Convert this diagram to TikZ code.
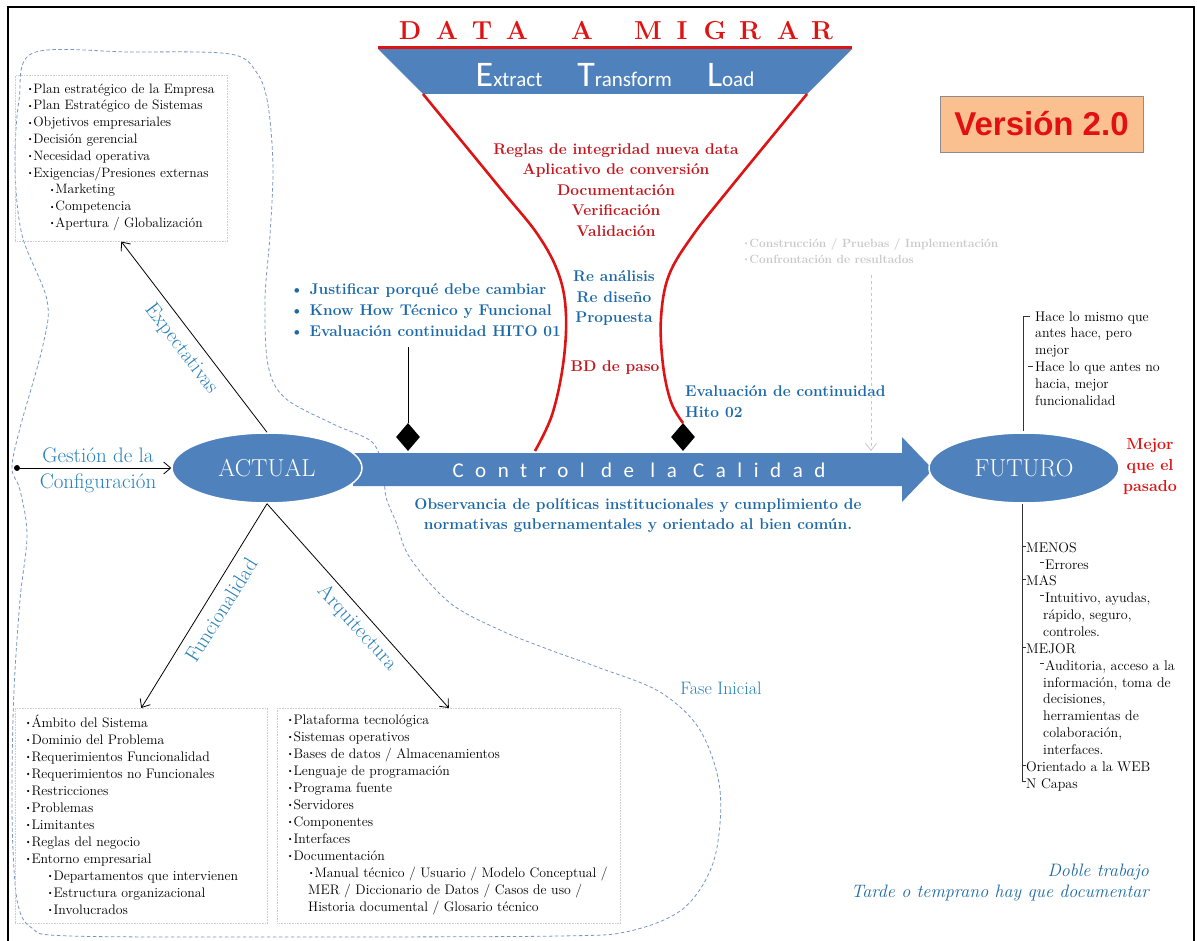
\documentclass[tikz,border=0pt]{standalone}
\usepackage{fontspec}
\newfontfamily\calibfont{Carlito}
\newfontfamily\calibspaced[LetterSpace=55]{Carlito}
\newfontfamily\arialfont{Liberation Sans}
\usetikzlibrary{shapes.geometric,arrows.meta}

\definecolor{bandblue}{RGB}{79,129,189}
\definecolor{textblue}{RGB}{28,104,168}
\definecolor{lblblue}{RGB}{40,128,186}
\definecolor{darkred}{RGB}{196,22,28}
\definecolor{brightred}{RGB}{222,20,20}
\definecolor{blobblue}{RGB}{120,150,195}
\definecolor{boxgray}{RGB}{205,205,205}
\definecolor{softgray}{RGB}{200,200,200}
\definecolor{peach}{RGB}{250,192,143}
\definecolor{versred}{RGB}{226,16,16}

\newcommand\bul{\raisebox{0.12em}{\scalebox{0.6}{\textbullet}}}

\tikzset{
  listbox/.style={draw=boxgray, densely dotted, line width=0.6pt, inner sep=0pt},
  listtext/.style={anchor=north west, align=left, inner sep=0pt, font=\fontsize{13.6}{16.8}\selectfont},
  boxtext/.style={anchor=north west, align=left, inner sep=0pt, font=\fontsize{13.8}{17}\selectfont},
  futtext/.style={anchor=north west, align=left, inner sep=0pt, font=\fontsize{14}{16.85}\selectfont},
  boldblue/.style={text=textblue, inner sep=0pt, font=\bfseries\fontsize{15.5}{20.7}\selectfont},
  boldred/.style={text=darkred, inner sep=0pt, font=\bfseries\fontsize{15.5}{20.5}\selectfont},
  lbl/.style={text=lblblue, inner sep=0pt, font=\fontsize{21}{26}\selectfont},
  migr/.style={text=brightred, inner sep=0pt, font=\bfseries\fontsize{26}{26}\selectfont},
  state/.style={ellipse, fill=bandblue, draw=white, line width=1.5pt, minimum width=190pt,
    minimum height=70pt, inner sep=0pt, text=white, font=\fontsize{24.5}{24.5}\selectfont},
  thinarrow/.style={draw=black, line width=0.8pt, -{Straight Barb[length=7pt,width=12pt]}},
  grayarrow/.style={draw=softgray, dashed, line width=0.8pt, -{Straight Barb[length=7pt,width=11pt]}},
  milestone/.style={diamond, fill=black, minimum width=24pt, minimum height=28pt, inner sep=0pt},
  blobline/.style={draw=blobblue, dashed, dash pattern=on 3.5pt off 2.5pt, line width=0.8pt},
  redcurve/.style={draw=brightred, line width=2.6pt},
  tick/.style={draw=black!80, line width=0.7pt}
}

\begin{document}
\begin{tikzpicture}[x=1pt,y=-1pt]
\useasboundingbox (0,0) rectangle (1197,941);
\fill[white] (0,0) rectangle (1197,941);

% outer frame
\draw[line width=2pt] (8,7) rectangle (1194,950);

% dashed outline of the initial phase
\draw[blobline] plot[smooth cycle, tension=0.55] coordinates {
  (33,53) (130,52) (230,54) (257,73) (268,105) (273,167) (270,235) (265,300)
  (268,365) (285,398) (333,424) (372,442) (383,470) (386,497) (396,522) (410,558)
  (450,603) (500,630) (550,650) (600,668) (660,692) (700,730) (720,790) (714,860)
  (684,908) (630,931) (560,936) (300,937) (70,936) (32,928) (18,905) (13,850)
  (12,780) (14,690) (20,600) (27,535) (20,490) (12,468) (20,428) (43,345)
  (47,300) (22,235) (15,167) (19,100)};
\node[text=lblblue, inner sep=0pt, font=\fontsize{18}{18}\selectfont] (fase) at (721,688) {Fase Inicial};

% ETL funnel
\fill[bandblue] (378,49) -- (852,49) -- (807,94) -- (423,94) -- cycle;
\draw[brightred, line width=3pt] (378,47.5) -- (852,47.5);
\foreach \ch/\xx [count=\i] in {D/410,A/447,T/482,A/517,A/582,M/648,I/682,G/715,R/750,A/788,R/822}
  \node[migr, anchor=base] (m\i) at (\xx,40) {\ch};
\node[anchor=base, text=white, inner sep=0pt, font=\calibfont] (etl) at (615,87)
  {{\fontsize{36}{36}\selectfont E}{\fontsize{21}{21}\selectfont xtract}\hspace{35pt}%
   {\fontsize{36}{36}\selectfont T}{\fontsize{21}{21}\selectfont ransform}\hspace{35pt}%
   {\fontsize{36}{36}\selectfont L}{\fontsize{21}{21}\selectfont oad}};

% milestones
\node[milestone] (d1) at (408,437) {};
\node[milestone] (d2) at (683,437) {};

\draw[redcurve] plot[smooth, tension=0.6] coordinates {
  (423,94) (500,188) (538,235) (559,275) (566,315) (563,365) (552,415) (535,451)};
\draw[redcurve] plot[smooth, tension=0.6] coordinates {
  (807,94) (730,188) (693,235) (669,275) (661,318) (663,365) (671,402) (683,423)};

\node[boldred, anchor=north, align=center] (etlsteps) at (616,143.5)
  {Reglas de integridad nueva data\\Aplicativo de conversión\\Documentación\\Verificación\\Validación};
\node[boldblue, anchor=north, align=center, font=\bfseries\fontsize{15.5}{20.5}\selectfont] (redesign) at (614,270.5)
  {Re análisis\\Re diseño\\Propuesta};
\node[boldred] (bdpaso) at (615,368) {BD de paso};

\node[boldblue, anchor=north west, align=left] (justif) at (290,283.5)
  {\textbullet~Justificar porqué debe cambiar\\\textbullet~Know How Técnico y Funcional\\\textbullet~Evaluación continuidad HITO 01};
\coordinate (h1top) at (408,347);
\draw[line width=0.9pt] (h1top) -- (d1.north);

\node[boldblue, anchor=north west, align=left] (hito2) at (685,385.5)
  {Evaluación de continuidad\\Hito 02};

% later phase notes
\node[anchor=north west, align=left, inner sep=0pt, text=softgray, font=\bfseries\fontsize{11.9}{16}\selectfont] (constr) at (743,238)
  {\bul Construcción / Pruebas / Implementación\\\bul Confrontación de resultados};
\coordinate (ctop) at (871,275);
\coordinate (cbot) at (871,451);
\draw[grayarrow] (ctop) -- (cbot);

% quality control band
\fill[bandblue] (353,453) -- (902,453) -- (902,437) -- (933,469.5) -- (902,502) -- (902,486) -- (353,486) -- cycle;
\node[text=white, inner sep=0pt, font=\calibspaced\fontsize{21}{21}\selectfont] (ctrl) at (639,470) {Control de la Calidad};
\node[boldblue, anchor=north, align=center, font=\bfseries\fontsize{15.5}{20}\selectfont] (obs) at (638,498.5)
  {Observancia de políticas institucionales y cumplimiento de\\normativas gubernamentales y orientado al bien común.};

% states
\node[state] (actual) at (267,468) {ACTUAL};
\node[state] (futuro) at (1024,468) {FUTURO};

% version tag
\node[draw=black!45, line width=0.8pt, fill=peach, minimum width=203pt, minimum height=56pt, inner sep=0pt,
  text=versred, font=\arialfont\bfseries\fontsize{33}{33}\selectfont] (ver) at (1041.5,124) {Versión 2.0};

% expectations box
\node[listbox, minimum width=212pt, minimum height=166pt, anchor=north west] (expbox) at (15,75) {};
\node[listtext] (explist) at (27,83.5)
  {\bul Plan estratégico de la Empresa\\
   \bul Plan Estratégico de Sistemas\\
   \bul Objetivos empresariales\\
   \bul Decisión gerencial\\
   \bul Necesidad operativa\\
   \bul Exigencias/Presiones externas\\
   \hspace*{22pt}\bul Marketing\\
   \hspace*{22pt}\bul Competencia\\
   \hspace*{22pt}\bul Apertura / Globalización};

% functionality box
\node[listbox, minimum width=252pt, minimum height=215pt, anchor=north west] (funcbox) at (15,708) {};
\node[boxtext] (funclist) at (25,714.5)
  {\bul Ámbito del Sistema\\
   \bul Dominio del Problema\\
   \bul Requerimientos Funcionalidad\\
   \bul Requerimientos no Funcionales\\
   \bul Restricciones\\
   \bul Problemas\\
   \bul Limitantes\\
   \bul Reglas del negocio\\
   \bul Entorno empresarial\\
   \hspace*{22pt}\bul Departamentos que intervienen\\
   \hspace*{22pt}\bul Estructura organizacional\\
   \hspace*{22pt}\bul Involucrados};

% architecture box
\node[listbox, minimum width=343pt, minimum height=215pt, anchor=north west] (arqbox) at (277,708) {};
\node[boxtext] (arqlist) at (287,714.5)
  {\bul Plataforma tecnológica\\
   \bul Sistemas operativos\\
   \bul Bases de datos / Almacenamientos\\
   \bul Lenguaje de programación\\
   \bul Programa fuente\\
   \bul Servidores\\
   \bul Componentes\\
   \bul Interfaces\\
   \bul Documentación\\
   \hspace*{21pt}\bul Manual técnico / Usuario / Modelo Conceptual /\\
   \hspace*{21pt}MER / Diccionario de Datos / Casos de uso /\\
   \hspace*{21pt}Historia documental / Glosario técnico};

% branches from the current state
\draw[thinarrow] (actual.north) -- (expbox.south);
\draw[thinarrow] (actual.south) -- (funcbox.north);
\draw[thinarrow] (actual.south) -- (arqbox.north);
\node[lbl, rotate=-52.7] (lexp) at (181,349) {Expectativas};
\node[lbl, rotate=58.2] (lfunc) at (221,610) {Funcionalidad};
\node[lbl, rotate=-47.7] (larq) at (357,628) {Arquitectura};

\node[circle, fill=black, minimum size=6pt, inner sep=0pt] (dot) at (17,468) {};
\draw[thinarrow] (dot) -- (actual.west);
\node[lbl, align=center] (gest) at (98,470) {Gestión de la\\[0pt]Configuración};

% future state notes
\node[boldred, align=center, anchor=north, font=\bfseries\fontsize{16}{21}\selectfont, text=brightred] (mejor) at (1150,438)
  {Mejor\\que el\\pasado};

\node[futtext] (futup) at (1035,311.2)
  {Hace lo mismo que\\antes hace, pero\\mejor\\Hace lo que antes no\\hacia, mejor\\funcionalidad};
\coordinate (upTop) at (1023,316);
\coordinate (upBot) at (1023,431);
\draw[tick] (upBot) -- (upTop) -- ++(7,0);
\draw[tick] (1028,366) -- ++(4.5,0);

\node[futtext] (futdown) at (1026,542.2)
  {MENOS\\
   \hspace*{19pt}Errores\\
   MAS\\
   \hspace*{19pt}Intuitivo, ayudas,\\
   \hspace*{17pt}rápido, seguro,\\
   \hspace*{17pt}controles.\\
   MEJOR\\
   \hspace*{19pt}Auditoria, acceso a la\\
   \hspace*{17pt}información, toma de\\
   \hspace*{17pt}decisiones,\\
   \hspace*{17pt}herramientas de\\
   \hspace*{17pt}colaboración,\\
   \hspace*{17pt}interfaces.\\
   Orientado a la WEB\\
   N Capas};
\coordinate (dnBot) at (1022,781);
\draw[tick] (futuro.south -| dnBot) -- (dnBot) -- ++(4,0);
\foreach \k in {0,2,6,13}
  \draw[tick] (1022,{546+16.85*\k}) -- ++(4,0);
\foreach \k in {1,3,7}
  \draw[tick] (1040,{545+16.85*\k}) -- ++(4,0);

% closing remark
\node[anchor=north east, align=right, inner sep=0pt, text=textblue, font=\itshape\fontsize{18}{21}\selectfont] (doble) at (1149,864)
  {Doble trabajo\\Tarde o temprano hay que documentar};
\end{tikzpicture}
\end{document}
